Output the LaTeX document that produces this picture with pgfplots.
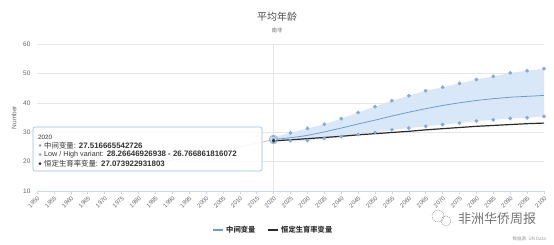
\documentclass[border=0pt]{standalone}
\usepackage{fontspec}
\setmainfont{Liberation Sans}
\newfontfamily\cjk{Noto Sans CJK SC}
\usepackage{pgfplots}
\pgfplotsset{compat=1.18}
\usepackage{pgfplotstable}
\usepgfplotslibrary{fillbetween}
\definecolor{gridc}{HTML}{E6E6E6}
\definecolor{axisc}{HTML}{CCD6EB}
\definecolor{tickc}{HTML}{666666}
\definecolor{areac}{HTML}{D5E6F7}
\definecolor{dotc}{HTML}{89A9CF}
\definecolor{medc}{HTML}{6F9BD1}
\definecolor{constc}{HTML}{2B2B2B}
\definecolor{histc}{HTML}{B8C4D0}

\pgfplotstableread{
year up lo
2020 28.27 26.77
2025 29.8 27.1
2030 31.3 27.2
2035 32.7 27.9
2040 34.6 28.5
2045 36.7 29.2
2050 38.7 29.9
2055 40.7 30.8
2060 42.4 31.4
2065 44.1 32.0
2070 45.3 32.6
2075 46.6 33.1
2080 47.9 33.8
2085 49.0 34.2
2090 50.2 34.7
2095 50.9 34.9
2100 51.6 35.4
}\bandtable

\pgfplotstableread{
year med
2020 27.52
2025 28.1
2030 28.9
2035 30.1
2040 31.4
2045 32.8
2050 34.1
2055 35.5
2060 36.8
2065 38.0
2070 39.1
2075 40.0
2080 40.8
2085 41.4
2090 41.9
2095 42.2
2100 42.5
}\medtable

\pgfplotstableread{
year con
2020 27.07
2025 27.4
2030 27.8
2035 28.2
2040 28.6
2045 29.1
2050 29.5
2055 29.9
2060 30.3
2065 30.8
2070 31.2
2075 31.6
2080 32.0
2085 32.3
2090 32.6
2095 32.9
2100 33.1
}\contable

\pgfplotstableread{
year hist
1950 20.2
1955 19.9
1960 19.1
1965 18.5
1970 18.4
1975 18.7
1980 19.1
1985 19.7
1990 20.5
1995 21.5
2000 22.6
2005 23.8
2010 25.0
2015 26.2
2020 27.52
}\histtable

\begin{document}
\begin{tikzpicture}
\path (0pt,0pt) rectangle (554pt,244pt);
\begin{axis}[
  at={(37pt,53pt)}, anchor=south west,
  scale only axis, width=507pt, height=147pt,
  xmin=1950, xmax=2100, ymin=10, ymax=60,
  xtick={1950,1955,...,2100},
  ytick={10,20,...,60},
  /pgf/number format/1000 sep={},
  /pgf/number format/assume math mode=true,
  ymajorgrids, major grid style={gridc, line width=0.5pt},
  axis x line*=bottom, axis y line*=left,
  y axis line style={draw=none},
  x axis line style={axisc, line width=0.6pt, -},
  xtick style={axisc, line width=0.5pt},
  major tick length=3pt,
  tick align=outside,
  xticklabel style={rotate=45, anchor=north east, font=\fontsize{6}{6}\selectfont, text=tickc, inner sep=1pt},
  yticklabel style={font=\fontsize{6.5}{7}\selectfont, text=tickc},
  ytick style={draw=none},
  ylabel={Number}, ylabel style={font=\fontsize{6.5}{7}\selectfont, text=tickc},
  clip=false,
]
\draw[gridc, line width=0.6pt] (axis cs:2020,10) -- (axis cs:2020,60);
\addplot[histc, line width=0.8pt] table[x=year,y=hist] {\histtable};
\addplot[name path=up, draw=none] table[x=year,y=up] {\bandtable};
\addplot[name path=lo, draw=none] table[x=year,y=lo] {\bandtable};
\addplot[areac, fill opacity=0.9] fill between[of=up and lo];
\addplot[only marks, color=dotc, mark=*, mark size=1.7pt, mark options={fill=dotc, draw=none}] table[x=year,y=up] {\bandtable};
\addplot[only marks, color=dotc, mark=*, mark size=1.7pt, mark options={fill=dotc, draw=none}] table[x=year,y=lo] {\bandtable};
\addplot[medc, line width=0.8pt] table[x=year,y=med] {\medtable};
\addplot[constc, line width=1.2pt] table[x=year,y=con] {\contable};
\addplot[only marks, color=dotc, mark=*, mark size=4.5pt, mark options={fill=dotc, fill opacity=0.45, draw=none}] coordinates {(2020,27.52)};
\addplot[only marks, color=medc, mark=*, mark size=2pt, mark options={fill=medc, draw=white, line width=0.5pt}] coordinates {(2020,27.52)};
\addplot[only marks, color=constc, mark=*, mark size=1.5pt, mark options={fill=constc, draw=none}] coordinates {(2020,27.07)};
\end{axis}
% title
\node[text=black!70, font=\cjk\fontsize{10}{11}\selectfont] at (277pt,227pt) {平均年龄};
\node[text=black!55, font=\cjk\fontsize{5.5}{6}\selectfont] at (277pt,214pt) {南非};
% tooltip
\draw[rounded corners=2pt, draw=dotc!80, line width=0.6pt, fill=white, fill opacity=0.88] (33pt,73pt) rectangle (262pt,117pt);
\node[anchor=west, font=\fontsize{6.3}{7}\selectfont, text=black!80, inner sep=0pt] at (38pt,107pt) {2020};
\fill[dotc] (40pt,98.5pt) circle (1.5pt);
\node[anchor=west, font=\fontsize{7.9}{8}\selectfont, text=black!80, inner sep=0pt] at (44pt,98.5pt) {{\cjk\fontsize{7.4}{8}\selectfont 中间变量}: \textbf{27.516665542726}};
\fill[dotc] (40pt,89.5pt) circle (1.5pt);
\node[anchor=west, font=\fontsize{7.9}{8}\selectfont, text=black!80, inner sep=0pt] at (44pt,89.5pt) {{\fontsize{7.2}{8}\selectfont Low / High variant:} \textbf{28.26646926938 - 26.766861816072}};
\fill[constc] (40pt,80.5pt) circle (1.5pt);
\node[anchor=west, font=\fontsize{7.9}{8}\selectfont, text=black!80, inner sep=0pt] at (44pt,80.5pt) {{\cjk\fontsize{7.4}{8}\selectfont 恒定生育率变量}: \textbf{27.073922931803}};
% legend
\draw[medc, line width=1.2pt] (213pt,14pt) -- (223pt,14pt);
\node[anchor=west, font=\cjk\bfseries\fontsize{7.3}{8}\selectfont, text=black!80, inner sep=0pt] at (226pt,14pt) {中间变量};
\draw[constc, line width=1.2pt] (268pt,14pt) -- (278pt,14pt);
\node[anchor=west, font=\cjk\bfseries\fontsize{7.3}{8}\selectfont, text=black!80, inner sep=0pt] at (281pt,14pt) {恒定生育率变量};
% watermark
\draw[black!45, line width=0.5pt, dash pattern=on 1pt off 0.8pt] (438pt,28pt) circle (6pt);
\draw[black!45, line width=0.5pt, dash pattern=on 1pt off 0.8pt] (446pt,23pt) circle (5pt);
\node[anchor=west, font=\cjk\fontsize{13}{14}\selectfont, text=black!55, inner sep=0pt] at (458pt,25pt) {非洲华侨周报};
% source
\node[anchor=east, font=\cjk\fontsize{4.5}{5}\selectfont, text=black!40, inner sep=0pt] at (546pt,5pt) {数据源: UN Data};
\end{tikzpicture}
\end{document}
